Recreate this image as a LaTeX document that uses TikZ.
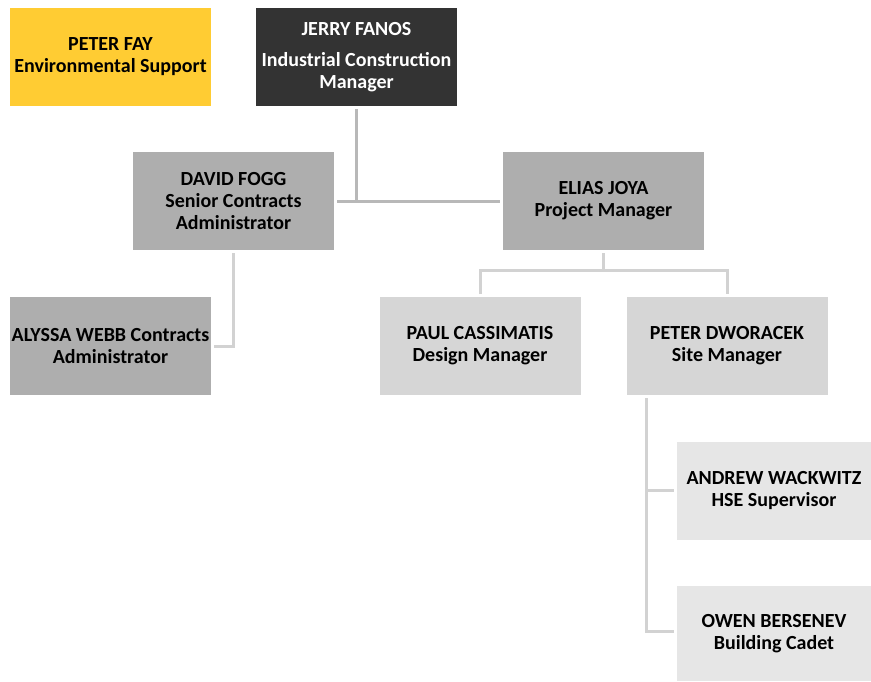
\documentclass[tikz,border=0pt]{standalone}
\usepackage{fontspec}
\setmainfont{Carlito}
\usepackage{xcolor}
\usepackage{tikz}
\usetikzlibrary{positioning,calc}
\definecolor{support}{HTML}{FFCC33}
\definecolor{headink}{HTML}{333333}
\definecolor{midgray}{HTML}{AEAEAE}
\definecolor{lowgray}{HTML}{D6D6D6}
\definecolor{leafgray}{HTML}{E6E6E6}
\definecolor{linkgray}{HTML}{B8B8B8}
\definecolor{sublinkgray}{HTML}{D2D2D2}
\tikzset{
  role/.style    ={inner sep=0pt,outer sep=0pt,align=center,minimum width=201pt,
                   minimum height=98pt,font=\fontsize{20}{22}\selectfont\bfseries},
  yellowbox/.style={role,fill=support,text=black},
  headbox/.style ={role,fill=headink,text=white},
  midbox/.style  ={role,fill=midgray,text=black},
  lowbox/.style  ={role,fill=lowgray,text=black},
  leafbox/.style ={role,fill=leafgray,text=black,minimum width=194pt},
  link/.style    ={line width=3pt,draw=linkgray},
  sublink/.style ={line width=3pt,draw=sublinkgray}
}

\begin{document}
\begin{tikzpicture}[x=1pt,y=-1pt]
        \useasboundingbox (0,0) rectangle (871,681);
        % top row
        \node[yellowbox] (fay) at (110.5,57) {PETER FAY\\Environmental Support};
        \node[headbox,right=45pt of fay] (fanos)
          {JERRY FANOS\\[9pt]Industrial Construction\\Manager};
        % second row
        \node[midbox] (fogg) at (233.5,201) {DAVID FOGG\\Senior Contracts\\Administrator};
        \node[midbox] (joya) at (603.5,201) {ELIAS JOYA\\Project Manager};
        % third row
        \node[midbox] (webb) at (110.5,346) {ALYSSA WEBB Contracts\\Administrator};
        \node[lowbox] (cassimatis) at (480,346) {PAUL CASSIMATIS\\Design Manager};
        \node[lowbox,right=46pt of cassimatis] (dworacek) {PETER DWORACEK\\Site Manager};
        % site team
        \node[leafbox] (wackwitz) at (774,490.5) {ANDREW WACKWITZ\\HSE Supervisor};
        \node[leafbox,minimum height=95pt] (bersenev) at (774,633.5)
          {OWEN BERSENEV\\Building Cadet};
        \coordinate (joyabus) at (603.5,270);
        \coordinate (sitebus) at (646,398);
        \draw[link] ([yshift=-3pt]fanos.south) -- (fanos.south |- fogg.east);
        \draw[link] ([xshift=3pt]fogg.east) -- ([xshift=-3pt]joya.west);
        \draw[sublink] ([yshift=-3pt]fogg.south) |- ([xshift=3pt]webb.east);
        \draw[sublink] ([yshift=-3pt]joya.south) -- (joyabus);
        \draw[sublink] ([yshift=3pt]cassimatis.north) -- (cassimatis.north |- joyabus)
          -- (dworacek.north |- joyabus) -- ([yshift=3pt]dworacek.north);
        \draw[sublink] (sitebus) |- ([xshift=-3pt,yshift=2pt]bersenev.west);
        \draw[sublink] (sitebus |- wackwitz.west) -- ([xshift=-3pt]wackwitz.west);
      \end{tikzpicture}
\end{document}
